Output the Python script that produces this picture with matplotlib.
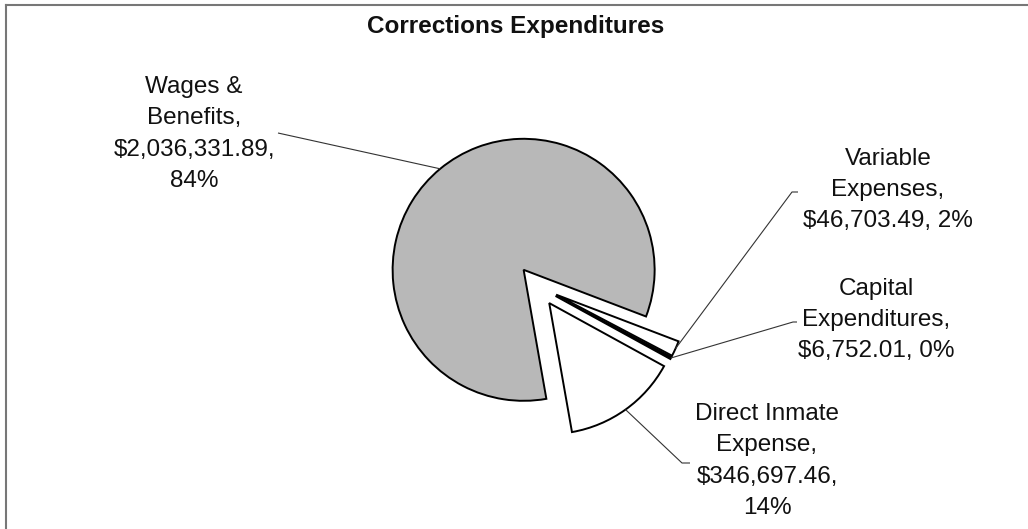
import matplotlib
matplotlib.use("Agg")
import matplotlib.pyplot as plt
import numpy as np
from matplotlib.lines import Line2D

# ---------------- data ----------------
title = "Corrections Expenditures"
categories = ["Wages &\nBenefits", "Variable\nExpenses", "Capital\nExpenditures", "Direct Inmate\nExpense"]
values = [2036331.89, 46703.49, 6752.01, 346697.46]
pct_on_new_line = [True, False, False, True]
slice_colors = ["#b8b8b8", "#ffffff", "#000000", "#ffffff"]

# ---------------- layout (pixel coords, y down) ----------------
W, H = 1028, 529
pie_center = (537, 286)
pie_radius = 131
explode_px = 21
label_pos = [(194, 134), (888, 190), (876, 320), (767, 461)]
label_elbow = [None, (792, 192), (793, 322), (682, 463)]
label_end = [(278, 133), (798, 192), (797, 322), (690, 463)]

plt.rcParams["font.family"] = ["Liberation Sans", "DejaVu Sans"]
FS = 17.5

fig = plt.figure(figsize=(W / 100, H / 100), dpi=100)
ax = fig.add_axes([0, 0, 1, 1])


def Y(py):
    return H - py


total = sum(values)
explode = [explode_px] * len(values)
wedges, _ = ax.pie(values, colors=slice_colors, startangle=-80, counterclock=False,
                   explode=explode, radius=pie_radius,
                   center=(pie_center[0], Y(pie_center[1])),
                   wedgeprops=dict(edgecolor="black", linewidth=1.4))
ax.set_xlim(0, W)
ax.set_ylim(0, H)
ax.set_aspect("equal")
ax.axis("off")

for i, (w, cat, v) in enumerate(zip(wedges, categories, values)):
    pct = round(v / total * 100)
    sep = ",\n" if pct_on_new_line[i] else ", "
    txt = f"{cat},\n${v:,.2f}{sep}{pct}%"
    lx, ly = label_pos[i]
    ax.text(lx, Y(ly), txt, ha="center", va="center", fontsize=FS,
            linespacing=1.55, color="#111111")
    # anchor on wedge outer arc at bisector
    a = np.deg2rad((w.theta1 + w.theta2) / 2)
    cx, cy = w.center
    r = w.r
    xs = [cx + r * np.cos(a)]
    ys = [cy + r * np.sin(a)]
    if label_elbow[i] is not None:
        xs.append(label_elbow[i][0]); ys.append(Y(label_elbow[i][1]))
    xs.append(label_end[i][0]); ys.append(Y(label_end[i][1]))
    ax.plot(xs, ys, color="#333333", lw=0.8, solid_capstyle="butt")

ax.text(516, Y(26), title, ha="center", va="center", fontsize=FS, fontweight="bold",
        color="#111111")

# chart border (top and left only visible)
fig.add_artist(Line2D([6 / W, 1.0], [1 - 5 / H, 1 - 5 / H], color="#777777", lw=1.5))
fig.add_artist(Line2D([6 / W, 6 / W], [1 - 5 / H, 0], color="#777777", lw=1.5))

fig.savefig("out.png", dpi=100)
